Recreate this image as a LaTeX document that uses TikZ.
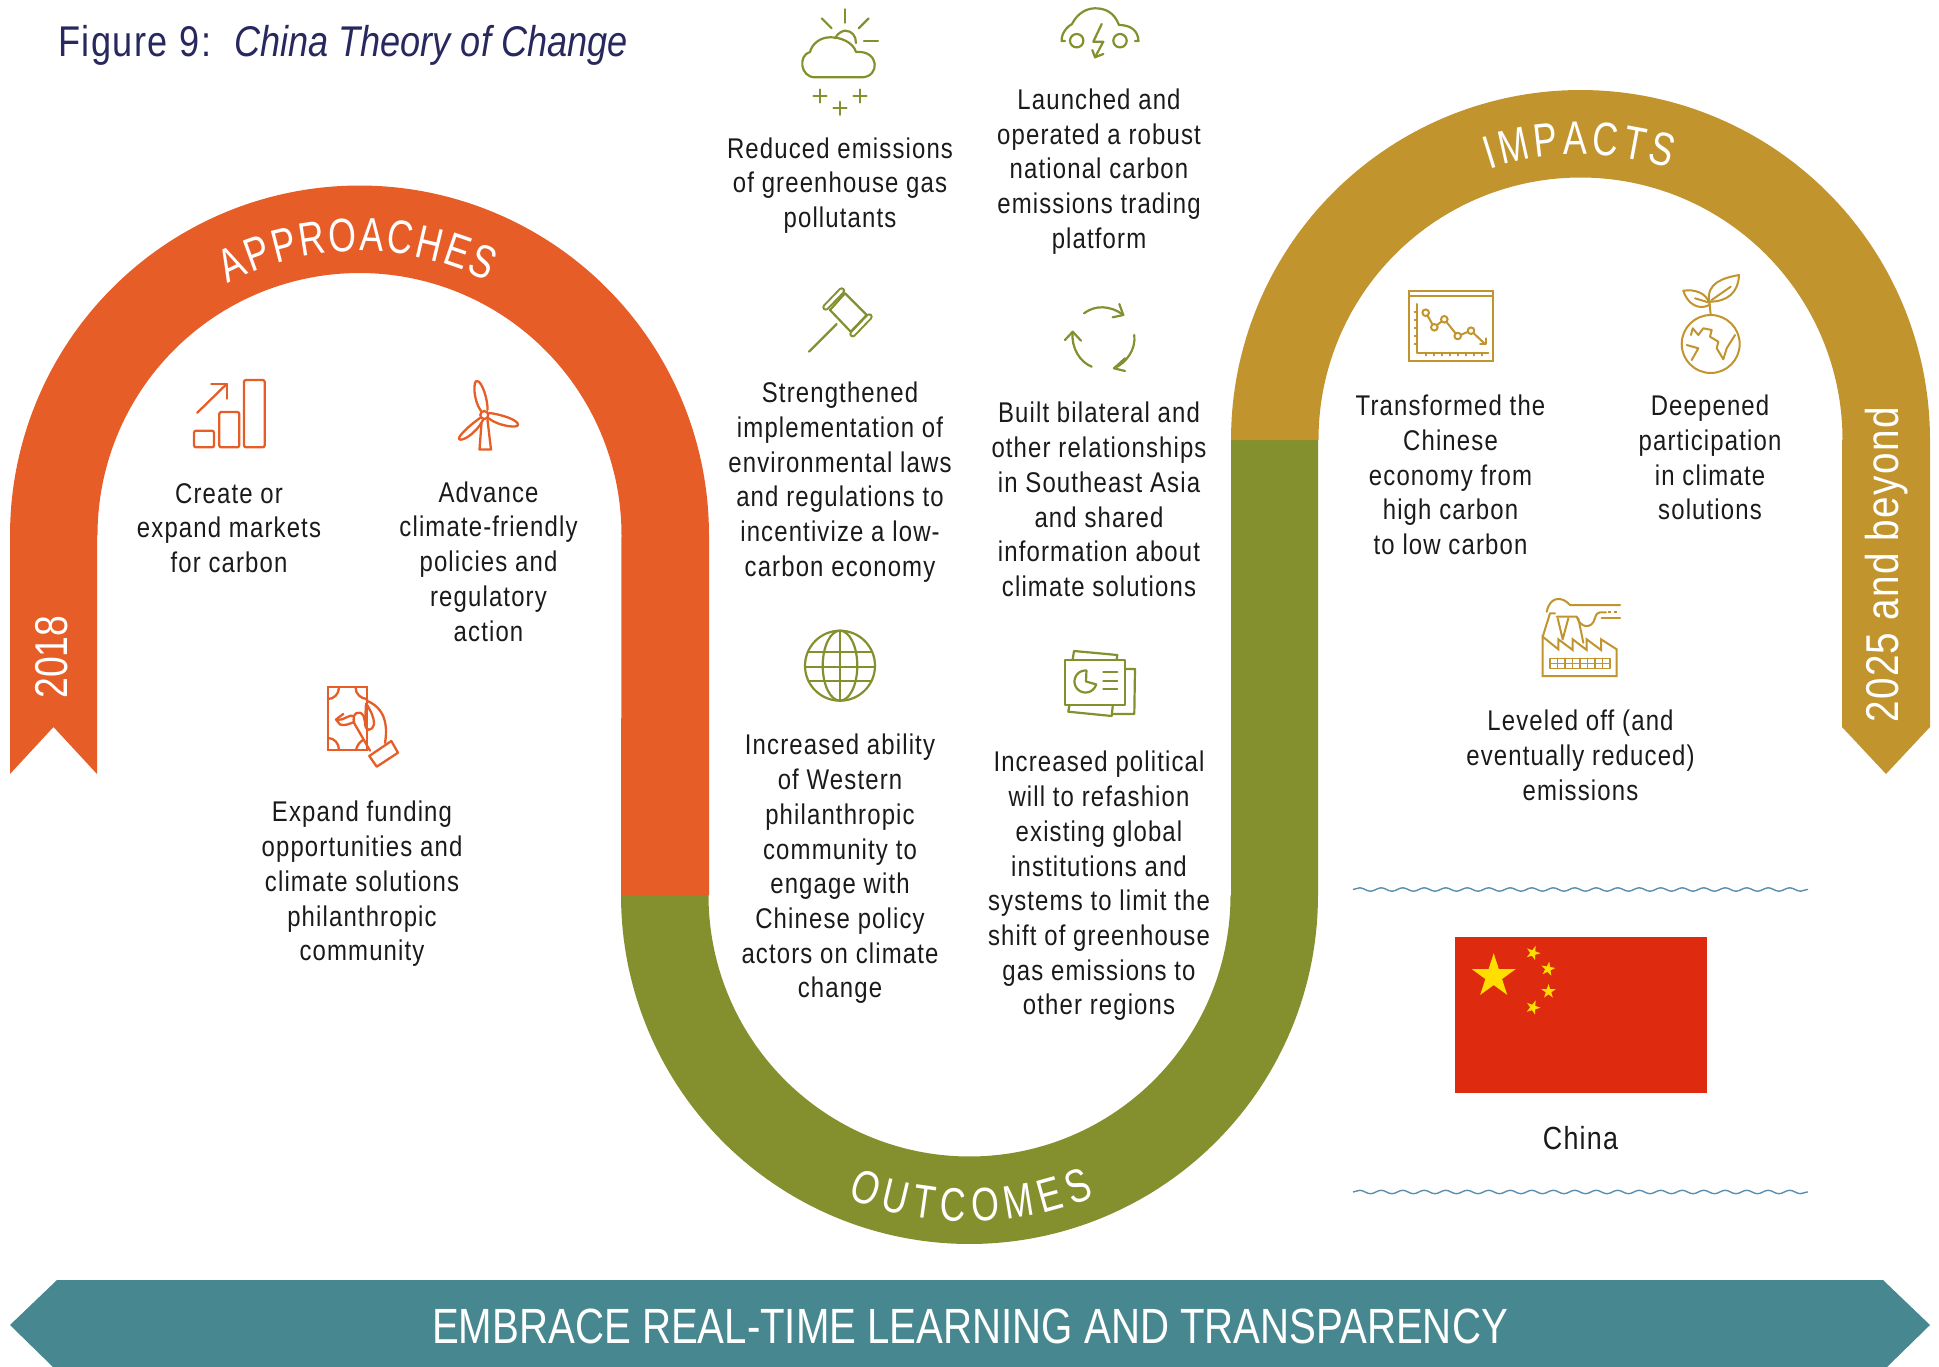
\documentclass[tikz,border=0pt]{standalone}
\usepackage{fontspec}
\setmainfont{Liberation Sans}
\newfontfamily\bodyf[FakeStretch=0.84,LetterSpace=4]{Liberation Sans}
\newfontfamily\sidef[FakeStretch=0.84,LetterSpace=3]{Liberation Sans}
\newfontfamily\bannerf[FakeStretch=0.812]{Liberation Sans}
\newfontfamily\archf[FakeStretch=0.76]{Liberation Sans}
\newfontfamily\figf[FakeStretch=0.84,LetterSpace=3.5]{Liberation Sans}
\newfontfamily\itf[FakeStretch=0.84]{Liberation Sans Italic}
\usetikzlibrary{decorations.text,decorations.pathmorphing,shapes.geometric}
\definecolor{cOrange}{HTML}{E75D27}
\definecolor{cOlive}{HTML}{848F2E}
\definecolor{cGold}{HTML}{C2942E}
\definecolor{cTeal}{HTML}{478790}
\definecolor{cNavy}{HTML}{28285E}
\definecolor{cInk}{HTML}{1A1A1A}
\definecolor{cRed}{HTML}{DE2A0E}
\definecolor{cYel}{HTML}{FFDE00}
\definecolor{cWave}{HTML}{5B8DB0}
\tikzset{
  x=1pt,y=-1pt,
  body/.style={font=\bodyf\fontsize{28.5}{34.7}\selectfont,text=cInk,align=center,inner sep=0pt},
  side/.style={font=\sidef\fontsize{46}{46}\selectfont,text=white,inner sep=0pt,rotate=90},
  icoO/.style={draw=cOrange,line width=2.3pt,line join=round,line cap=round},
  icoG/.style={draw=cOlive,line width=2.2pt,line join=round,line cap=round},
  icoY/.style={draw=cGold,line width=2pt,line join=round,line cap=round},
  wave/.style={draw=cWave,line width=1.4pt,decorate,decoration={snake,segment length=21.5pt,amplitude=1.7pt}},
  flagstar/.style={star,star points=5,star point ratio=2.618,fill=cYel,inner sep=0pt},
}
\newcommand{\arcword}[6]{% cx cy r a0 a1 text
  \path[decorate,color=white,decoration={text along path,text align=fit to path,
     text={|\archf\fontsize{47}{47}\selectfont\color{white}|#6}}]
     plot[domain=#4:#5,samples=60] ({#1+#3*cos(\x)},{#2-#3*sin(\x)});}
\begin{document}
\begin{tikzpicture}
\useasboundingbox (0,0) rectangle (1939,1367);
% ribbon
\fill[cOlive] (621,894)
  -- plot[domain=180:360,samples=150] ({969.5+348.5*cos(\x)},{895.5-348.5*sin(\x)})
  -- (1318,439) -- (1231,439) -- (1231,895)
  -- plot[domain=360:180,samples=150] ({969.5+261*cos(\x)},{895.5-261*sin(\x)}) -- (709,894) -- cycle;
\fill[cOrange] (10,774) -- (53.5,727) -- (97,774) -- (97,535)
  -- plot[domain=180:0,samples=150] ({359.5+262*cos(\x)},{535-262*sin(\x)})
  -- (621,895) -- (709,895) -- (709,535)
  -- plot[domain=0:180,samples=150] ({359.5+349.5*cos(\x)},{535-349.5*sin(\x)}) -- cycle;
\fill[cGold] (1231,440)
  -- plot[domain=180:0,samples=150] ({1580.5+349.5*cos(\x)},{439.5-349.5*sin(\x)})
  -- (1930,727) -- (1886,774) -- (1842,727) -- (1842,439.5)
  -- plot[domain=0:180,samples=150] ({1580.5+262*cos(\x)},{439.5-262*sin(\x)}) -- (1318,440) -- cycle;
% bottom arrow
\fill[cTeal] (10,1325) -- (57,1280) -- (1883,1280) -- (1930,1325) -- (1887,1367) -- (53,1367) -- cycle;
\node[font=\bannerf\fontsize{49.5}{50}\selectfont,text=white,inner sep=0pt] (banner) at (970,1326) {EMBRACE REAL-TIME LEARNING AND TRANSPARENCY};
% arc words
\arcword{359.5}{535}{284}{117.6}{63.2}{APPROACHES}
\arcword{969.5}{895.5}{326}{248}{292.5}{OUTCOMES}
\arcword{1580.5}{439.5}{285}{108.6}{71.8}{IMPACTS}
\node[side,font=\bannerf\fontsize{46}{46}\selectfont] (y2018) at (52,657) {2018};
\node[side] (y2025) at (1887,565) {2025 and beyond};
% title
\node[anchor=west,inner sep=0pt,text=cNavy,font=\figf\fontsize{43}{44}\selectfont] (title) at (58,45.5) {Figure 9:};
\node[anchor=west,inner sep=0pt,text=cNavy,font=\itf\fontsize{43}{44}\selectfont] (subtitle) at (234,45.5) {China Theory of Change};
% body text
\node[body] (t1) at (229,528) {Create or\\expand markets\\for carbon};
\node[body] (t2) at (488.5,561.5) {Advance\\climate-friendly\\policies and\\regulatory\\action};
\node[body] (t3) at (362,884) {Expand funding\\opportunities and\\climate solutions\\philanthropic\\community};
\node[body] (t4) at (840,185.5) {Reduced emissions\\of greenhouse gas\\pollutants};
\node[body] (t5) at (1099,171.5) {Launched and\\operated a robust\\national carbon\\emissions trading\\platform};
\node[body] (t6) at (840,482) {Strengthened\\implementation of\\environmental laws\\and regulations to\\incentivize a low-\\carbon economy};
\node[body] (t7) at (1099,499.5) {Built bilateral and\\other relationships\\in Southeast Asia\\and shared\\information about\\climate solutions};
\node[body] (t8) at (840,869) {Increased ability\\of Western\\philanthropic\\community to\\engage with\\Chinese policy\\actors on climate\\change};
\node[body] (t9) at (1099,886) {Increased political\\will to refashion\\existing global\\institutions and\\systems to limit the\\shift of greenhouse\\gas emissions to\\other regions};
\node[body] (t10) at (1450.5,475) {Transformed the\\Chinese\\economy from\\high carbon\\to low carbon};
\node[body] (t11) at (1710,457.5) {Deepened\\participation\\in climate\\solutions};
\node[body] (t12) at (1580.5,755.5) {Leveled off (and\\eventually reduced)\\emissions};
\node[body,font=\bodyf\fontsize{32}{34}\selectfont] (t13) at (1580.5,1138) {China};
% flag
\fill[cRed] (1455,937) rectangle (1707,1093);
\node[flagstar,minimum size=46pt] (s0) at (1493.7,976.3) {};
\node[flagstar,minimum size=15pt,rotate=-20] (s1) at (1533,953) {};
\node[flagstar,minimum size=15pt,rotate=-10] (s2) at (1548,969) {};
\node[flagstar,minimum size=15pt] (s3) at (1548.5,991.5) {};
\node[flagstar,minimum size=15pt,rotate=-20] (s4) at (1533,1007.5) {};
% waves
\coordinate (w1a) at (1353,889.5); \coordinate (w1b) at (1808,889.5);
\coordinate (w2a) at (1353,1192); \coordinate (w2b) at (1808,1192);
\draw[wave] (w1a) -- (w1b);
\draw[wave] (w2a) -- (w2b);
% --- orange icons ---
\draw[icoO,rounded corners=2pt] (194,430.7) rectangle (214,447.3);
\draw[icoO,rounded corners=2pt] (219.3,412) rectangle (239.3,447.3);
\draw[icoO,rounded corners=2pt] (244,380) rectangle (264.7,447.3);
\draw[icoO] (197.3,412.7) -- (226.7,384);
\draw[icoO] (211.3,384) -- (226.7,384) -- (226.7,398.7);
% turbine
\draw[icoO] (484.3,415) circle (4);
\draw[icoO] (481,411) .. controls (473,400) and (473,380) .. (477,381) .. controls (482,381) and (488,400) .. (487.5,410);
\draw[icoO] (489,413) .. controls (500,414) and (519,420) .. (518,425) .. controls (518,428) and (500,427) .. (488,418);
\draw[icoO] (480,418) .. controls (470,425) and (458,436) .. (459,439) .. controls (461,442) and (475,435) .. (483,420);
\draw[icoO] (481.5,423) -- (479.5,449.5) -- (491,449.5) -- (487.5,420);
% money hand
\draw[icoO,line cap=butt,line join=miter] (328,687.3) rectangle (367.3,750);
\draw[icoO] (328,699) .. controls (334,699) and (339,694) .. (339,687.3);
\draw[icoO] (355.5,687.3) .. controls (355.5,694) and (361,699) .. (367.3,699);
\draw[icoO] (328,738) .. controls (334,738) and (339,743) .. (339,750);
\draw[icoO] (356,750) .. controls (357,745) and (360,742) .. (363,740);
\draw[icoO] (366.7,700.7) .. controls (385,708) and (388,725) .. (385,743);
% finger
\draw[icoO] (370,750.7) -- (354.3,723.3) .. controls (351,713) and (360,709) .. (363.5,716) -- (366,726);
% thumb loop
\draw[icoO] (366,703.5) -- (365,725) .. controls (366,731) and (372,732) .. (374,724) .. controls (374,716) and (370,710) .. (366.5,704);
% arrow
\draw[icoO] (354,716) .. controls (349,714) and (345,720) .. (338,720);
\draw[icoO] (343.3,714) -- (336,719.5) -- (340,724.5) .. controls (345,726) and (349,724) .. (354,722);
\draw[icoO] (369.3,756) -- (391.3,741) -- (398,752.7) -- (376.7,766.7) -- cycle;
% --- olive icons ---
\draw[icoG] (845,9.3) -- (845,22.7);
\draw[icoG] (821.7,18.3) -- (831.7,28.3);
\draw[icoG] (868.7,18.3) -- (858.7,28.3);
\draw[icoG] (864,41.3) -- (878,41.3);
\draw[icoG] (835,38.3) .. controls (838,32) and (844,30.7) .. (845,30.7) .. controls (852,30.7) and (856,36) .. (856,43);
\draw[icoG] (815,77.3) -- (861.7,77.3) .. controls (880,77.3) and (880,50) .. (856,52)
   .. controls (853,42) and (840,37) .. (830,37.3) .. controls (820,37.3) and (812,44) .. (810,52)
   .. controls (798,55) and (800,77.3) .. (815,77.3) -- cycle;
\foreach \px/\py in {820/96,840/108.3,860/96}{
  \draw[icoG] (\px-6.5,\py) -- (\px+6.5,\py);
  \draw[icoG] (\px,\py-6.5) -- (\px,\py+6.5);
}
% car
\draw[icoG] (1065,41) -- (1061.7,41) .. controls (1061,33) and (1068,26) .. (1072,24)
  .. controls (1078,12) and (1088,8.3) .. (1095,8.3) .. controls (1105,8.3) and (1114,12) .. (1119,25)
  .. controls (1130,25) and (1138,30) .. (1138.5,41) -- (1135,41);
\draw[icoG] (1076.7,40.7) circle (6.7);
\draw[icoG] (1120,40.7) circle (6.7);
\draw[icoG] (1101.7,24) -- (1093.3,41.7) -- (1103.3,41.7) -- (1095,57.3);
\draw[icoG] (1092.3,50) -- (1095,57.3) -- (1103.3,54);
% gavel
\draw[icoG] (809,351.7) -- (836.7,324);
\draw[icoG] (830,310) -- (845,293.3) -- (866.7,315) -- (850.7,331.7) -- cycle;
\draw[draw=cOlive,line width=6.8pt,line cap=round] (825.7,307.3) -- (841.7,290.7);
\draw[draw=white,line width=2.8pt,line cap=round] (825.7,307.3) -- (841.7,290.7);
\draw[draw=cOlive,line width=6.8pt,line cap=round] (869.3,316.7) -- (852.7,334);
\draw[draw=white,line width=2.8pt,line cap=round] (869.3,316.7) -- (852.7,334);
% cycle arrows
\draw[icoG] (1084,313.3) .. controls (1095,305) and (1110,305) .. (1123.3,315);
\draw[icoG] (1119.3,304) -- (1123.3,315) -- (1112.7,317.3);
\draw[icoG] (1134.3,335) .. controls (1136,350) and (1126,363) .. (1114,368.3);
\draw[icoG] (1125,358.3) -- (1114,368.3) -- (1125,371);
\draw[icoG] (1091.7,366.7) .. controls (1080,362) and (1071,348) .. (1072.7,332);
\draw[icoG] (1065,340) -- (1072.7,331.7) -- (1081,340.7);
% globe
\draw[icoG] (840,665.7) circle (35);
\draw[icoG] (840,665.7) ellipse (17.3 and 35);
\draw[icoG] (840,630.7) -- (840,700.7);
\draw[icoG] (807.7,652.3) -- (872.3,652.3);
\draw[icoG] (805,667.3) -- (875,667.3);
\draw[icoG] (808.5,681) -- (871.5,681);
% presentation
\draw[icoG] (1065,660) rectangle (1125.3,705);
\draw[icoG] (1072.7,659.3) -- (1074,651) -- (1117.3,655) -- (1116.7,659.3);
\draw[icoG] (1125.3,669) -- (1135,669) -- (1134.3,714) -- (1113.3,714);
\draw[icoG] (1069.3,706) -- (1068.3,711.7) -- (1111.7,716) -- (1112.7,706);
\draw[icoG] (1086,681.5) -- plot[domain=85:345,samples=40] ({1085.5+11*cos(\x)},{681.5-11*sin(\x)}) -- cycle;
\foreach \ly in {671.7,680.7,689.3}{ \draw[icoG] (1103.3,\ly) -- (1117.3,\ly); }
% --- gold icons ---
\draw[icoY,line join=miter] (1409,290.7) rectangle (1492.7,361);
\draw[icoY] (1409,296) -- (1492.7,296);
\draw[icoY] (1417.3,304) -- (1417.3,352.7) -- (1488.3,352.7);
\foreach \ty in {312,320,328,336,344}{ \draw[icoY] (1414.5,\ty) -- (1417.3,\ty); }
\foreach \tx in {1426,1434,1442,1450,1458,1466,1474,1482}{ \draw[icoY] (\tx,352.7) -- (\tx,355.5); }
\draw[icoY] (1425.7,312.7) circle (3.3);
\draw[icoY] (1434.3,327.3) circle (3.3);
\draw[icoY] (1444.3,319.3) circle (3.3);
\draw[icoY] (1457.7,336) circle (3.3);
\draw[icoY] (1471,330.7) circle (3.3);
\draw[icoY] (1427.5,315.5) -- (1432.5,324.5);
\draw[icoY] (1437,325.2) -- (1441.7,321.3);
\draw[icoY] (1446.3,321.8) -- (1455.7,333.5);
\draw[icoY] (1460.8,334.8) -- (1467.9,331.9);
\draw[icoY] (1473.4,333) -- (1485,344);
\draw[icoY] (1480,344) -- (1485.7,344) -- (1485.7,338.3);
% plant globe
\draw[icoY] (1710.7,344) circle (29);
\draw[icoY] (1710.7,315) -- (1709.3,300);
\draw[icoY] (1709.3,301.7) .. controls (1706,283) and (1723,278) .. (1739,275) .. controls (1738.3,293) and (1727,301.7) .. (1709.3,301.7);
\draw[icoY] (1711.7,300) -- (1730.7,286.7);
\draw[icoY] (1683.3,290.7) .. controls (1687,303) and (1698,311) .. (1709.3,305);
\draw[icoY] (1683.3,290.7) .. controls (1695,289) and (1706,293) .. (1709.3,303);
\draw[icoY] (1695,298.3) -- (1709.3,302.7);
\draw[icoY] (1691,335) -- (1692.7,328.3) -- (1698.3,335) -- (1703.3,328.3) -- (1711.7,330) -- (1710,336.7) -- (1718.3,341.7) -- (1716.7,348.3) -- (1723.3,359.3) -- (1726.7,348.3) -- (1735,335);
\draw[icoY] (1686.7,345) -- (1698.3,348.3) -- (1691.7,360);
% factory
\draw[icoY,line join=miter] (1542.7,676) -- (1542.7,636.7) -- (1558.3,649.3) -- (1558.3,639.3) -- (1572.7,650) -- (1572.7,639.3) -- (1586.7,650) -- (1586.7,639.3) -- (1601,650) -- (1601,639.3) -- (1616.7,649.3) -- (1616.7,676) -- cycle;
\draw[icoY,line width=1.6pt] (1550,658.3) rectangle (1610,668.3);
\draw[icoY,line width=1.6pt] (1550,663.3) -- (1610,663.3);
\foreach \gx in {1557.5,1565,1572.5,1580,1587.5,1595,1602.5}{ \draw[icoY,line width=1.6pt] (\gx,658.3) -- (\gx,668.3); }
\draw[icoY] (1546.7,611.7) .. controls (1550,596) and (1562,596) .. (1570,605) -- (1620,605);
\draw[icoY] (1556.7,616.7) -- (1576.7,616.7) .. controls (1580,628) and (1592,630) .. (1595,618) .. controls (1596,614) and (1598,612.3) .. (1600,612.3) -- (1606,612.3);
\draw[icoY,line cap=butt,dash pattern=on 3pt off 2.5pt] (1608,612.3) -- (1619,612.3);
\draw[icoY] (1601.7,617.7) -- (1620,617.7);
\draw[icoY] (1542.7,636.7) -- (1550,613.3) -- (1555,613.3);
\draw[icoY] (1557.7,618.3) -- (1562.7,639.3) -- (1568.3,618.3);
\draw[icoY] (1578.3,618.3) -- (1583.3,642.7);
\end{tikzpicture}
\end{document}
